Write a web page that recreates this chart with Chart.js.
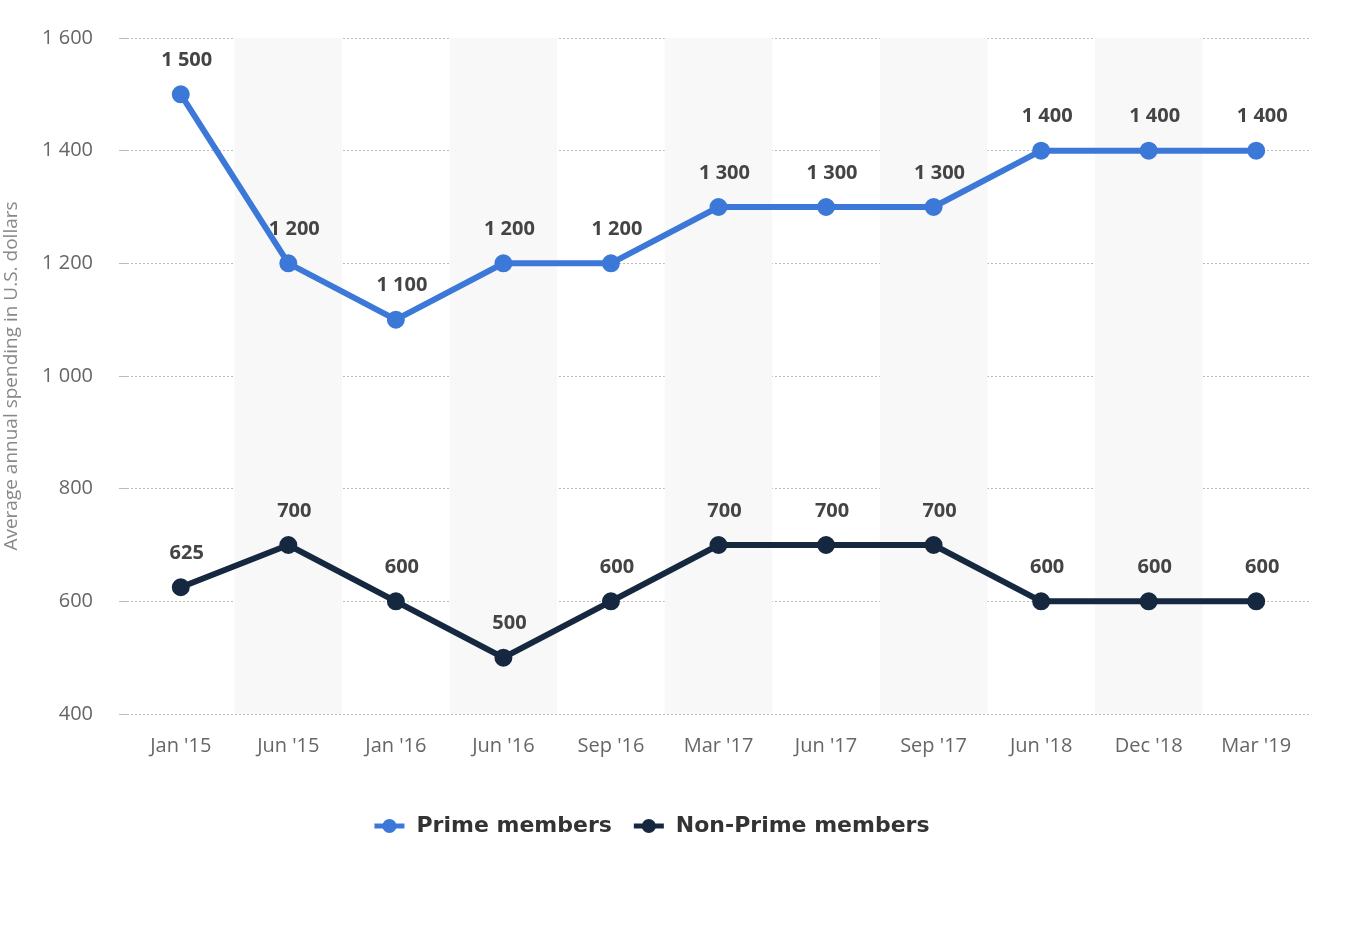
<!DOCTYPE html>
<html><head><meta charset="utf-8">
<script src="https://cdn.jsdelivr.net/npm/chart.js@4"></script>
<style>html,body{margin:0;background:#fff}#wrap{width:1364px;height:938px}</style>
</head><body><div id="wrap"><canvas id="c"></canvas></div>
<script>
const labels = ["Jan '15","Jun '15","Jan '16","Jun '16","Sep '16","Mar '17","Jun '17","Sep '17","Jun '18","Dec '18","Mar '19"];
const prime = [1500,1200,1100,1200,1200,1300,1300,1300,1400,1400,1400];
const nonPrime = [625,700,600,500,600,700,700,700,600,600,600];
const yTicks = [400,600,800,1000,1200,1400,1600];

const fmt = v => String(v).replace(/\B(?=(\d{3})+(?!\d))/g, ' ');
const FONT = '"Open Sans", "DejaVu Sans", sans-serif';

const bands = {
  id: 'bands',
  beforeDatasetsDraw(chart) {
    const {ctx, chartArea: a, scales: {x}} = chart;
    const w = x.getPixelForValue(1) - x.getPixelForValue(0);
    ctx.save();
    ctx.fillStyle = '#f8f8f8';
    labels.forEach((l, i) => {
      if (i % 2 === 1) ctx.fillRect(x.getPixelForValue(i) - w / 2, a.top, w, a.bottom - a.top);
    });
    ctx.restore();
  }
};

const valueLabels = {
  id: 'valueLabels',
  afterDatasetsDraw(chart) {
    const {ctx} = chart;
    ctx.save();
    ctx.font = 'bold 20px ' + FONT;
    ctx.fillStyle = '#444';
    ctx.textAlign = 'center';
    ctx.textBaseline = 'bottom';
    chart.data.datasets.forEach((ds, di) => {
      chart.getDatasetMeta(di).data.forEach((p, i) => {
        ctx.fillText(fmt(ds.data[i]), p.x + 6, p.y - 24);
      });
    });
    ctx.restore();
  }
};

const legend = {
  id: 'customLegend',
  afterDraw(chart) {
    const {ctx} = chart;
    const items = [['Prime members', '#3c78d8'], ['Non-Prime members', '#152840']];
    ctx.save();
    ctx.font = 'bold 22px "DejaVu Sans", sans-serif';
    ctx.textBaseline = 'middle';
    const gap = 22, sw = 30;
    let total = 0;
    items.forEach(([t]) => total += sw + 12 + ctx.measureText(t).width);
    total += gap;
    let x = 652 - total / 2;
    const y = 826;
    items.forEach(([t, c]) => {
      ctx.strokeStyle = c; ctx.fillStyle = c; ctx.lineWidth = 5;
      ctx.beginPath(); ctx.moveTo(x, y); ctx.lineTo(x + sw, y); ctx.stroke();
      ctx.beginPath(); ctx.arc(x + sw / 2, y, 7, 0, Math.PI * 2); ctx.fill();
      ctx.fillStyle = '#333';
      ctx.fillText(t, x + sw + 12, y);
      x += sw + 12 + ctx.measureText(t).width + gap;
    });
    ctx.restore();
  }
};

const mkDs = (label, data, color) => ({
  label, data, borderColor: color, backgroundColor: color,
  borderWidth: 6, pointRadius: 6, pointHoverRadius: 6, tension: 0
});

new Chart(document.getElementById('c'), {
  type: 'line',
  data: { labels, datasets: [mkDs('Prime members', prime, '#3c78d8'), mkDs('Non-Prime members', nonPrime, '#152840')] },
  plugins: [bands, valueLabels, legend],
  options: {
    responsive: true, maintainAspectRatio: false, animation: false,
    layout: { padding: { left: 0, right: 54, top: 29, bottom: 168 } },
    plugins: { legend: { display: false }, tooltip: { enabled: false } },
    scales: {
      x: {
        offset: true,
        grid: { display: false },
        border: { display: false },
        ticks: { color: '#666', font: { family: FONT, size: 20 }, padding: 12, maxRotation: 0 }
      },
      y: {
        min: 400, max: 1600,
        afterBuildTicks: s => { s.ticks = yTicks.map(v => ({value: v})); },
        afterFit: s => { s.width = 127; },
        grid: { color: '#bbb', lineWidth: 1 },
        border: { display: false, dash: [2, 2] },
        ticks: { color: '#666', font: { family: FONT, size: 20 }, padding: 26, callback: v => fmt(v) },
        title: { display: true, text: 'Average annual spending in U.S. dollars', color: '#888', font: { family: FONT, size: 19 }, padding: 0 }
      }
    }
  }
});
</script></body></html>
